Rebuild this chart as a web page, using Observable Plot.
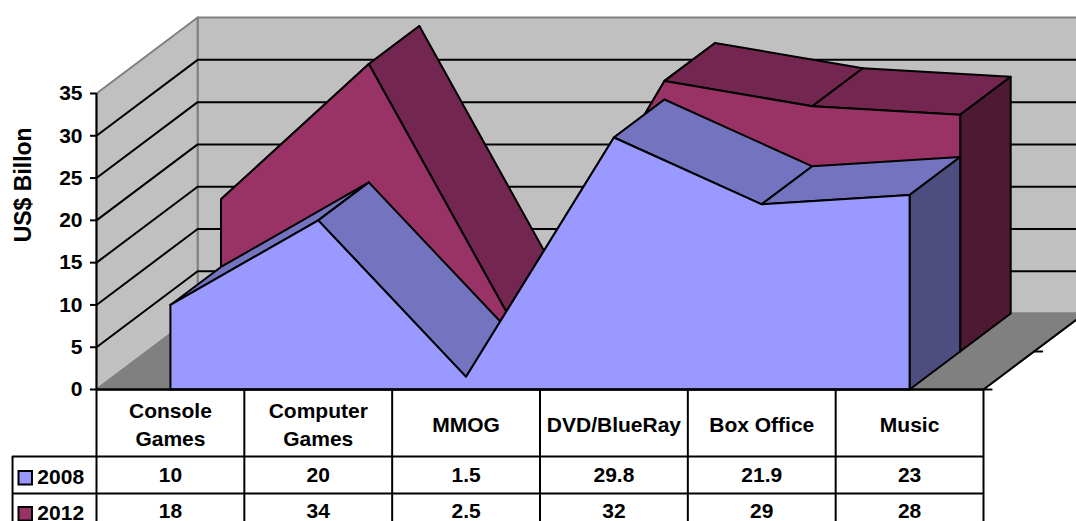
<!DOCTYPE html>
<html>
<head>
<meta charset="utf-8">
<script src="https://cdn.jsdelivr.net/npm/d3@7"></script>
<script src="https://cdn.jsdelivr.net/npm/@observablehq/plot@0.6"></script>
<style>
  html, body { margin: 0; padding: 0; background: #fff; overflow: hidden; }
</style>
</head>
<body>
<div id="chart"></div>
<script>
// Market revenue by category, in US$ billion
const categories = ["Console\nGames", "Computer\nGames", "MMOG", "DVD/BlueRay", "Box Office", "Music"];
const seriesNames = ["2008", "2012"];
const values2008 = [10, 20, 1.5, 29.8, 21.9, 23];
const values2012 = [18, 34, 2.5, 32, 29, 28];
const yTicks = [0, 5, 10, 15, 20, 25, 30, 35];

const frontColors = ["#9999ff", "#993366"];
const topColors = ["#7373bf", "#732650"];
const sideColors = ["#4d4d80", "#4d1933"];
const wallColor = "#c0c0c0";
const floorColor = "#808080";

// Oblique projection: one depth step moves a point right and up, in data units
const depthX = 0.342;
const depthY = 4.49;
const yMax = 35;
const lastDepth = 2;
const P = (cat, value, depth = 0) => ({x: cat + depth * depthX, y: value + depth * depthY});

const face = (corners, fill, stroke = "black", strokeWidth = 2) =>
  Plot.line([...corners, corners[0]].map(([c, v, d]) => P(c, v, d)), {
    x: "x", y: "y", fill, stroke, strokeWidth, strokeLinejoin: "round"
  });
const edge = (corners, stroke = "black", strokeWidth = 2) =>
  Plot.line(corners.map(([c, v, d]) => P(c, v, d)), {
    x: "x", y: "y", stroke, strokeWidth, strokeLinejoin: "round"
  });

// Back wall, side wall and floor, with gridlines at each tick above zero
const n = categories.length;
const box = [
  face([[0, 0, lastDepth], [n, 0, lastDepth], [n, yMax, lastDepth], [0, yMax, lastDepth]], wallColor, floorColor),
  face([[0, 0, 0], [0, 0, lastDepth], [0, yMax, lastDepth], [0, yMax, 0]], wallColor, floorColor),
  face([[0, 0, 0], [n, 0, 0], [n, 0, lastDepth], [0, 0, lastDepth]], floorColor, floorColor),
  ...yTicks.filter((t) => t > 0 && t < yMax).map((t) =>
    edge([[0, t, 0], [0, t, lastDepth], [n, t, lastDepth]])),
  edge([[n, 0, 0], [n, 0, lastDepth]])
];

// One ribbon per series: sloped top panels, the end cap, then the front face
const ribbon = (values, s) => {
  const at = (i) => i + 0.5;
  const tops = d3.pairs(d3.range(values.length)).map(([a, b]) =>
    face([[at(a), values[a], s], [at(b), values[b], s], [at(b), values[b], s + 1], [at(a), values[a], s + 1]], topColors[s]));
  const end = values.length - 1;
  const side = face([[at(end), 0, s], [at(end), values[end], s], [at(end), values[end], s + 1], [at(end), 0, s + 1]], sideColors[s]);
  const front = face([
    [at(0), 0, s],
    ...values.map((v, i) => [at(i), v, s]),
    [at(end), 0, s]
  ], frontColors[s]);
  return [...tops, side, front];
};

// Data table under the plot; row offsets are expressed in the value scale
const headerBottom = -7.92;
const row1Bottom = -12.29;
const tableBottom = -17;
const legendLeft = -0.568;
const headerLines = categories.map((label, i) => ({x: i + 0.5, label}));
const rowRecords = (values, yc) => values.map((v, i) => ({x: i + 0.5, y: yc, label: String(v)}));
const row1Mid = -10.2;
const row2Mid = -14.45;
const fontSize = 21;

const table = [
  Plot.ruleY([0], {x1: 0, x2: n, stroke: "black", strokeWidth: 2.5}),
  Plot.ruleY([headerBottom, row1Bottom], {x1: legendLeft, x2: n, stroke: "black", strokeWidth: 2}),
  Plot.ruleX([0, 1, 2, 3, 4, 5, 6], {y1: tableBottom, y2: 0, stroke: "black", strokeWidth: 2}),
  Plot.ruleX([legendLeft], {y1: tableBottom, y2: headerBottom, stroke: "black", strokeWidth: 2}),
  Plot.text(headerLines, {x: "x", y: headerBottom / 2, text: "label", fontSize, lineHeight: 1.33, fill: "black"}),
  Plot.text(rowRecords(values2008, row1Mid), {x: "x", y: "y", text: "label", fontSize, fill: "black"}),
  Plot.text(rowRecords(values2012, row2Mid), {x: "x", y: "y", text: "label", fontSize, fill: "black"}),
  Plot.dot([{s: 0, y: row1Mid}, {s: 1, y: row2Mid}], {
    x: -0.482, y: "y", dy: 2, symbol: "square", r: 7.6,
    fill: (d) => frontColors[d.s], stroke: "black", strokeWidth: 2
  }),
  Plot.text([{s: 0, y: row1Mid}, {s: 1, y: row2Mid}], {
    x: -0.4, y: "y", dy: 2, text: (d) => seriesNames[d.s], textAnchor: "start", fontSize, fill: "black"
  })
];

// Depth-axis tick stubs on the right-hand floor edge
const depthTicks = [0, 1].map((d) => edge([[n, 0, d], [n + 0.055, 0, d]]));

const chart = Plot.plot({
  width: 1076,
  height: 521,
  marginLeft: 0, marginRight: 0, marginTop: 0, marginBottom: 0,
  style: {fontFamily: "'Liberation Sans', Arial, sans-serif", fontWeight: "bold", background: "#fff", color: "black"},
  x: {type: "linear", domain: [0, n], range: [96, 983], axis: null},
  y: {type: "linear", domain: [0, yMax], range: [389, 93], axis: null},
  marks: [
    ...box,
    ...ribbon(values2012, 1),
    ...ribbon(values2008, 0),
    ...depthTicks,
    ...table,
    Plot.ruleX([0], {y1: 0, y2: yMax, stroke: "black", strokeWidth: 2}),
    Plot.axisY({
      ticks: yTicks, anchor: "left", x: 0, label: null,
      tickSize: 6, tickPadding: 8, fontSize, strokeWidth: 2, stroke: "black", fill: "black"
    }),
    Plot.text(["US$ Billon"], {
      frameAnchor: "left", dx: 23, y: 17.4, rotate: -90, fontSize: 23, fill: "black"
    })
  ]
});
document.getElementById("chart").appendChild(chart);
</script>
</body>
</html>
